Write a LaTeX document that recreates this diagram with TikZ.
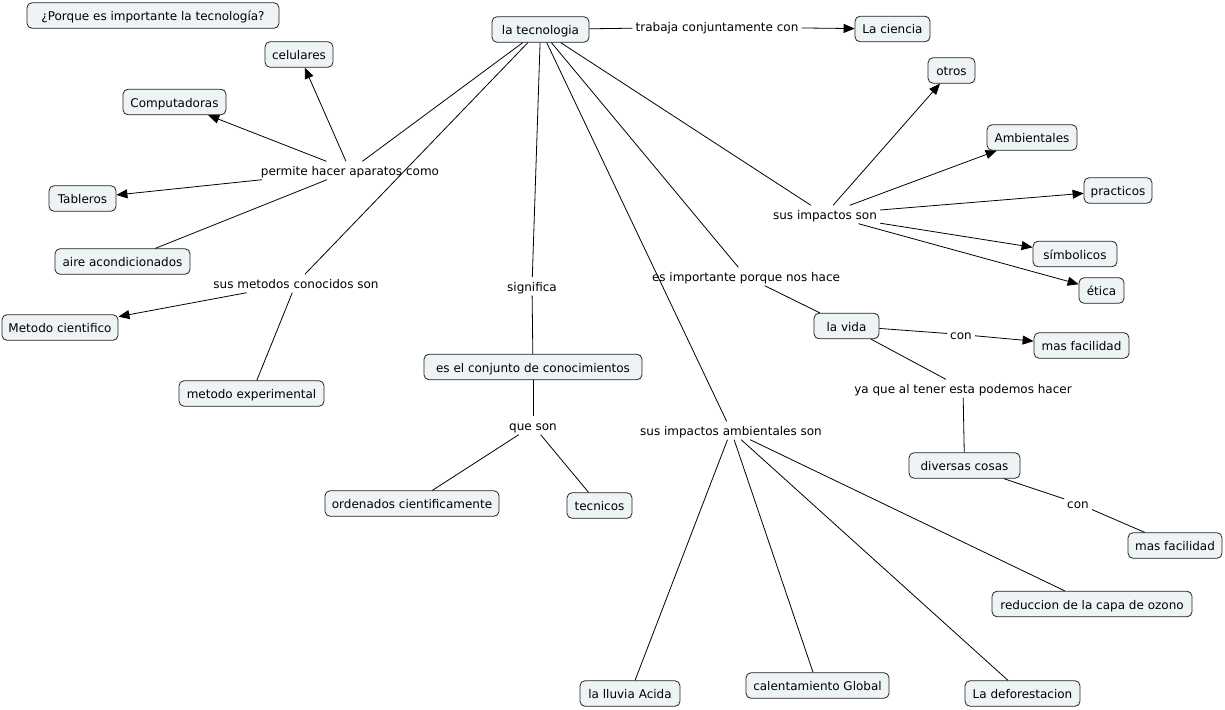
\documentclass[tikz,border=0pt]{standalone}
\usepackage{fontspec}
\setmainfont{DejaVu Sans}
\usetikzlibrary{arrows.meta}
\definecolor{cfill}{HTML}{EEF4F6}
\definecolor{cline}{HTML}{222222}
\begin{document}
\begin{tikzpicture}[x=1pt,y=-1pt,
  every node/.style={font=\fontsize{12}{14}\selectfont, text=black, text height=11pt, text depth=1pt},
  concept/.style={draw=cline, line width=0.8pt, fill=cfill, rounded corners=5pt, minimum height=25.5pt, inner xsep=6pt, inner ysep=0pt},
  link/.style={inner xsep=3pt, inner ysep=3pt},
  conn/.style={draw=black, line width=0.8pt},
  arr/.style={conn, -{Triangle[length=11pt,width=9pt]}}]
\useasboundingbox (0,0) rectangle (1225,709);
\fill[white] (0,0) rectangle (1225,709);
% concepts
\node[concept, minimum width=252pt] (q) at (153,15.5) {¿Porque es importante la tecnología?};
\node[concept, minimum width=97pt] (tec) at (540.5,29.5) {la tecnologia};
\node[concept, minimum width=75pt] (ciencia) at (892.5,29) {La ciencia};
\node[concept, minimum width=68pt] (cel) at (299,54.5) {celulares};
\node[concept, minimum width=103pt] (comp) at (174.5,102) {Computadoras};
\node[concept, minimum width=67pt] (tab) at (82.5,198.5) {Tableros};
\node[concept, minimum width=135pt] (aire) at (122.5,261.5) {aire acondicionados};
\node[concept, minimum width=116pt] (mc) at (60,327.5) {Metodo cientifico};
\node[concept, minimum width=145pt] (me) at (251.5,393.5) {metodo experimental};
\node[concept, minimum width=218pt] (conj) at (533,367) {es el conjunto de conocimientos};
\node[concept, minimum width=174pt] (ord) at (412,503.5) {ordenados cientificamente};
\node[concept, minimum width=65pt] (tecn) at (599.5,505.5) {tecnicos};
\node[concept, minimum width=47pt] (otros) at (951.5,70.5) {otros};
\node[concept, minimum width=90pt] (amb) at (1032,137.5) {Ambientales};
\node[concept, minimum width=68pt] (prac) at (1118,190.5) {practicos};
\node[concept, minimum width=84pt] (simb) at (1075,254) {símbolicos};
\node[concept, minimum width=45pt] (etica) at (1101.5,290.5) {ética};
\node[concept, minimum width=65pt] (vida) at (846.5,326) {la vida};
\node[concept, minimum width=95pt] (mf1) at (1081.5,345.5) {mas facilidad};
\node[concept, minimum width=111pt] (div) at (964.5,465.5) {diversas cosas};
\node[concept, minimum width=94pt] (mf2) at (1175,545.5) {mas facilidad};
\node[concept, minimum width=200pt] (ozono) at (1092,604) {reduccion de la capa de ozono};
\node[concept, minimum width=100pt] (lluvia) at (630,693.5) {la lluvia Acida};
\node[concept, minimum width=143pt] (cal) at (817.5,685.5) {calentamiento Global};
\node[concept, minimum width=115pt] (def) at (1022.5,693.5) {La deforestacion};
% linking phrases
\node[link] (ltrab) at (717,27) {trabaja conjuntamente con};
\node[link] (lperm) at (350,170.5) {permite hacer aparatos como};
\node[link] (lmet) at (296,283.5) {sus metodos conocidos son};
\node[link] (lsig) at (532,286.5) {significa};
\node[link] (lque) at (533,425.5) {que son};
\node[link] (lamb) at (731,430.5) {sus impactos ambientales son};
\node[link] (limp) at (746,276.5) {es importante porque nos hace};
\node[link] (lsus) at (825,214.5) {sus impactos son};
\node[link] (lcon1) at (961,334.5) {con};
\node[link] (lya) at (963,388.5) {ya que al tener esta podemos hacer};
\node[link] (lcon2) at (1078,503.5) {con};
% connectors
\draw[conn] (tec) -- (ltrab);
\draw[arr] (ltrab) -- (ciencia);
\draw[conn] (tec) -- (lperm);
\draw[arr] (lperm) -- (cel);
\draw[arr] (lperm) -- (comp);
\draw[arr] (lperm) -- (tab);
\draw[conn] (lperm) -- (aire);
\draw[conn] (tec) -- (lmet);
\draw[arr] (lmet) -- (mc);
\draw[conn] (lmet) -- (me);
\draw[conn] (tec) -- (lsig);
\draw[conn] (lsig) -- (conj);
\draw[conn] (conj) -- (lque);
\draw[conn] (lque) -- (ord);
\draw[conn] (lque) -- (tecn);
\draw[conn] (tec) -- (lamb);
\draw[conn] (lamb) -- (lluvia);
\draw[conn] (lamb) -- (cal);
\draw[conn] (lamb) -- (def);
\draw[conn] (lamb) -- (ozono);
\draw[conn] (tec) -- (limp);
\draw[conn] (limp) -- (vida);
\draw[conn] (vida) -- (lcon1);
\draw[arr] (lcon1) -- (mf1);
\draw[conn] (vida) -- (lya);
\draw[conn] (lya) -- (div);
\draw[conn] (div) -- (lcon2);
\draw[conn] (lcon2) -- (mf2);
\draw[conn] (tec) -- (lsus);
\draw[arr] (lsus) -- (otros);
\draw[arr] (lsus) -- (amb);
\draw[arr] (lsus) -- (prac);
\draw[arr] (lsus) -- (simb);
\draw[arr] (lsus) -- (etica);
\end{tikzpicture}
\end{document}
